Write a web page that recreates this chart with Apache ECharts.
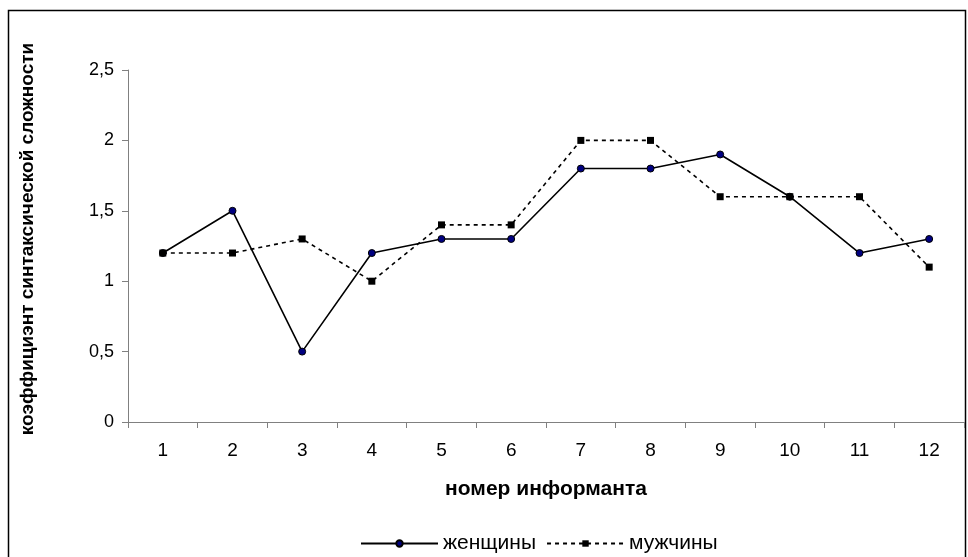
<!DOCTYPE html>
<html><head><meta charset="utf-8">
<script src="https://cdn.jsdelivr.net/npm/echarts@6/dist/echarts.min.js"></script>
<style>html,body{margin:0;padding:0;background:#fff}#c{width:968px;height:557px}</style>
</head><body><div id="c"></div>
<script>
const categories = ['1','2','3','4','5','6','7','8','9','10','11','12'];
const women = [1.2, 1.5, 0.5, 1.2, 1.3, 1.3, 1.8, 1.8, 1.9, 1.6, 1.2, 1.3];
const men = [1.2, 1.2, 1.3, 1.0, 1.4, 1.4, 2.0, 2.0, 1.6, 1.6, 1.6, 1.1];
const seriesNames = ['женщины', 'мужчины'];
const xTitle = 'номер информанта';
const yTitle = 'коэффициэнт синтаксической сложности';

const chart = echarts.init(document.getElementById('c'));
const font = 'Liberation Sans, Arial, sans-serif';
chart.setOption({
  animation: false,
  textStyle: {fontFamily: font},
  graphic: [{
    type: 'rect', shape: {x: 8.5, y: 10.5, width: 957, height: 560},
    style: {fill: 'none', stroke: '#000', lineWidth: 1.5}, silent: true
  }, {
    type: 'text', x: 28, y: 239, rotation: Math.PI / 2,
    style: {text: yTitle, font: 'bold 19px ' + font, fill: '#000',
      align: 'center', verticalAlign: 'middle'}
  }],
  grid: {left: 128, right: 4, top: 70, bottom: 135, containLabel: false},
  legend: {
    top: 528, left: 355, itemWidth: 77, itemHeight: 8, itemGap: 10,
    textStyle: {fontSize: 21, color: '#000', fontFamily: font},
    data: seriesNames
  },
  xAxis: {
    type: 'category', data: categories, boundaryGap: true,
    name: xTitle, nameLocation: 'middle', nameGap: 57,
    nameTextStyle: {fontWeight: 'bold', fontSize: 21, color: '#000', fontFamily: font},
    axisLine: {lineStyle: {color: '#808080', width: 1}},
    axisTick: {show: true, alignWithLabel: false, length: 6, lineStyle: {color: '#808080'}},
    axisLabel: {fontSize: 19, color: '#000', margin: 19, fontFamily: font}
  },
  yAxis: {
    type: 'value', min: 0, max: 2.5, interval: 0.5,
    splitLine: {show: false},
    axisLine: {show: true, lineStyle: {color: '#808080', width: 1}},
    axisTick: {show: true, length: 6, lineStyle: {color: '#808080'}},
    axisLabel: {fontSize: 18, color: '#000', margin: 14, fontFamily: font,
      formatter: v => String(v).replace('.', ',')}
  },
  series: [{
    name: seriesNames[0], type: 'line', data: women,
    symbol: 'circle', symbolSize: 7,
    itemStyle: {color: '#000080', borderColor: '#000', borderWidth: 1},
    lineStyle: {color: '#000', width: 1.6, type: 'solid'}
  }, {
    name: seriesNames[1], type: 'line', data: men,
    symbol: 'rect', symbolSize: 7,
    itemStyle: {color: '#000', borderColor: '#000', borderWidth: 0},
    lineStyle: {color: '#000', width: 1.6, type: [4, 4]}
  }]
});
</script></body></html>
